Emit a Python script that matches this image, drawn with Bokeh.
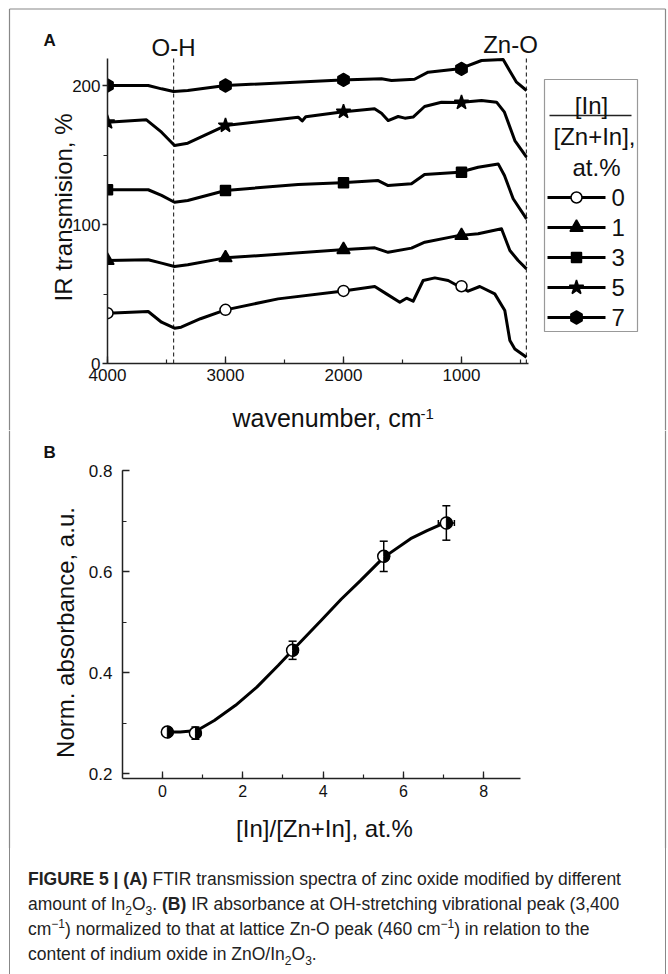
import numpy as np
from bokeh.plotting import figure
from bokeh.models import Range1d, SingleIntervalTicker, Whisker, TeeHead, ColumnDataSource, Div
from bokeh.layouts import column
from bokeh.core.properties import value
from bokeh.embed import file_html
from bokeh.resources import INLINE

FONT = "Liberation Sans"
INK = "#111111"
FRAME_C = "#888888"

# ---------------- Panel A data (FTIR transmission, offset spectra) ----------------
wn0 = [4000, 3655, 3542, 3432, 3376, 3212, 3000, 2554, 2017, 1735, 1636, 1523, 1466, 1410,
       1325, 1226, 1113, 1020, 944, 845, 718, 633, 590, 548, 449]
t0 = [36.2, 37.4, 29.7, 25.4, 26.1, 32.2, 38.6, 46.5, 52.0, 55.4, 50.1, 44.1, 47.0, 44.8,
      59.7, 61.6, 59.7, 55.4, 52.0, 55.4, 50.1, 38.1, 16.5, 10.5, 4.5]

wn1 = [4000, 3655, 3542, 3432, 3320, 3000, 2017, 1735, 1622, 1424, 1311, 1028, 859, 661, 590, 520, 449]
t1 = [74.1, 74.6, 72.2, 69.8, 71.0, 76.0, 81.8, 83.2, 80.0, 83.0, 87.3, 92.0, 93.3, 96.9, 81.3, 74.1, 68.1]

wn3 = [4000, 3655, 3542, 3432, 3320, 3000, 2384, 2017, 1706, 1622, 1424, 1313, 1017, 859, 689, 636, 562, 449]
t3 = [125.0, 125.0, 120.9, 116.0, 117.3, 124.5, 128.8, 130.0, 131.6, 128.0, 129.3, 136.0, 137.6, 141.2,
      143.6, 135.2, 118.5, 104.0]

wn5 = [4000, 3670, 3542, 3432, 3320, 3000, 2384, 2350, 2320, 2017, 1737, 1678, 1622, 1537, 1480, 1410,
       1313, 1170, 1017, 830, 703, 636, 548, 449]
t5 = [173.6, 175.3, 166.4, 156.8, 158.5, 171.2, 177.2, 174.5, 177.5, 181.0, 183.2, 180.0, 174.8, 177.7,
      176.5, 177.3, 184.9, 188.0, 187.7, 189.2, 188.0, 180.8, 160.4, 148.4]

wn7 = [4000, 3655, 3542, 3440, 3320, 3000, 2017, 1678, 1593, 1398, 1283, 1017, 830, 647, 593, 534, 449]
t7 = [200.0, 200.0, 197.6, 195.7, 196.4, 200.0, 204.0, 204.8, 203.6, 204.5, 209.6, 212.0, 218.0, 218.7,
      210.8, 202.4, 196.4]

marker_wn = [4000, 3000, 2000, 1000]
m0 = [36.2, 38.6, 52.2, 55.6]
m1 = [74.1, 76.0, 81.9, 92.0]
m3 = [125.0, 124.5, 130.0, 137.6]
m5 = [173.6, 171.2, 181.2, 187.7]
m7 = [200.0, 200.0, 204.0, 212.0]

series_labels = ["0", "1", "3", "5", "7"]
band_wn = [3440, 450]
band_names = ["O-H", "Zn-O"]

# ---------------- Panel B data (normalized absorbance) ----------------
b_x = [0.12, 0.82, 3.24, 5.51, 7.07]
b_y = [0.282, 0.280, 0.444, 0.630, 0.696]
b_ey = [0.008, 0.012, 0.018, 0.030, 0.034]
b_ex = [0.05, 0.05, 0.05, 0.10, 0.20]
fit_x = [0.12, 0.44, 0.86, 1.29, 1.82, 2.35, 2.88, 3.24, 3.95, 4.45, 4.93, 5.51, 6.18, 6.59, 7.07]
fit_y = [0.282, 0.282, 0.285, 0.305, 0.335, 0.371, 0.414, 0.444, 0.503, 0.545, 0.582, 0.628, 0.665, 0.681, 0.698]

# ---------------- layout (page pixels -> data) ----------------
W = 668
A_H = 430          # panel A canvas: page y 0..430
B_TOP = A_H
B_H = 418          # panel B canvas: page y 430..848


def XA(px):
    return 4000 - (px - 107) / 0.118


def YA(py):
    return (363 - py) / 1.39


def XB(px):
    return (px - 162) / 40.15


def YB(py):
    return 0.2 + (773 - py) / 505.0


def style_axis(a, tin, tout, min_, mout, standoff, fs):
    a.axis_line_color = "#222222"
    a.axis_line_width = 1.5
    a.major_tick_line_color = "#222222"
    a.minor_tick_line_color = "#222222"
    a.major_tick_line_width = 1.3
    a.minor_tick_line_width = 1.2
    a.major_tick_in = tin
    a.major_tick_out = tout
    a.minor_tick_in = min_
    a.minor_tick_out = mout
    a.major_label_standoff = standoff
    a.major_label_text_font = FONT
    a.major_label_text_font_size = fs
    a.major_label_text_color = INK


def txt(p, x, y, s, size, align="left", baseline="alphabetic", bold=False, angle=0.0):
    p.text(x=[x], y=[y], text=[s], text_align=align, text_baseline=baseline,
           text_font=value(FONT), text_font_size=size, text_color=INK,
           text_font_style="bold" if bold else "normal", angle=angle)


def base_fig(xr, yr, h):
    p = figure(width=W, height=h, x_range=xr, y_range=yr, output_backend="svg",
               toolbar_location=None, min_border=0)
    p.grid.visible = False
    p.outline_line_color = None
    p.background_fill_color = "white"
    p.border_fill_color = "white"
    return p


# ================= Panel A =================
pA = base_fig(Range1d(XA(0), XA(W)), Range1d(YA(A_H), YA(0)), A_H)

xa = pA.xaxis[0]
xa.ticker = SingleIntervalTicker(interval=1000, num_minor_ticks=2)
xa.bounds = (XA(528), 4000)
xa.fixed_location = 0
style_axis(xa, 7, 0, 4, 0, 5, "17px")
ya = pA.yaxis[0]
ya.ticker = SingleIntervalTicker(interval=100, num_minor_ticks=2)
ya.bounds = (0, YA(58))
ya.fixed_location = 4000
style_axis(ya, 0, 5, 0, 4, 2, "17px")

# dashed band markers
pA.segment(x0=band_wn, y0=[0, 0], x1=band_wn, y1=[YA(58), YA(55)],
           line_dash="4 3", line_width=1.2, color="#333333")

specs = [("circle", 11, "white"), ("triangle", 13, "black"), ("square", 10, "black"),
         ("star", 15, "black"), ("hex", 13, "black")]
curves = [(wn0, t0, m0), (wn1, t1, m1), (wn3, t3, m3), (wn5, t5, m5), (wn7, t7, m7)]
for (wn, t, m), (mk, sz, fc) in zip(curves, specs):
    pA.line(wn, t, line_width=3, color="black", line_join="round")
    ang = np.pi / 6 if mk == "hex" else 0
    pA.scatter(marker_wn, m, marker=mk, size=sz, fill_color=fc, line_color="black",
               line_width=1.5, angle=ang)

# markers are cut at the axis in the original: mask the area left of 4000
pA.quad(left=[XA(10)], right=[4000], bottom=[YA(368)], top=[YA(60)],
        fill_color="white", line_color=None)

# band labels, panel letter, axis titles
txt(pA, band_wn[0], YA(47), band_names[0], "24px", align="center")
txt(pA, XA(510), YA(44), band_names[1], "24px", align="center")
txt(pA, XA(43), YA(40), "A", "17px", bold=True)
txt(pA, XA(232), YA(417), "wavenumber, cm", "25px")
txt(pA, XA(420), YA(413), "-1", "15px")
txt(pA, XA(63), YA(207), "IR transmision, %", "24px", align="center", angle=np.pi / 2)

# legend
pA.quad(left=[XA(544)], right=[XA(637)], top=[YA(79)], bottom=[YA(331)],
        fill_color=None, line_color="#999999", line_width=1.2)
pA.segment(x0=[XA(549)], y0=[YA(115)], x1=[XA(631)], y1=[YA(115)], line_width=1.5, color="#222222")
txt(pA, XA(591), YA(105), "[In]", "24px", align="center")
txt(pA, XA(594), YA(136), "[Zn+In],", "24px", align="center")
txt(pA, XA(596), YA(167), "at.%", "24px", align="center")
row_y = [197, 227, 257, 287, 317]
for lab, (mk, sz, fc), ry in zip(series_labels, specs, row_y):
    yy = YA(ry)
    pA.segment(x0=[XA(547)], y0=[yy], x1=[XA(605)], y1=[yy], line_width=3, color="black")
    ang = np.pi / 6 if mk == "hex" else 0
    pA.scatter([XA(576)], [yy], marker=mk, size=sz, fill_color=fc, line_color="black",
               line_width=1.5, angle=ang)
    txt(pA, XA(611), yy, lab, "24px", baseline="middle")

# outer figure frame (top, left, right)
pA.segment(x0=[XA(9), XA(9), XA(665)], y0=[YA(8.5), YA(8.5), YA(8.5)],
           x1=[XA(665), XA(9), XA(665)], y1=[YA(8.5), YA(A_H), YA(A_H)],
           line_width=1.2, color=FRAME_C)

# ================= Panel B =================
pB = base_fig(Range1d(XB(0), XB(W)), Range1d(YB(B_TOP + B_H), YB(B_TOP)), B_H)

xb = pB.xaxis[0]
xb.ticker = SingleIntervalTicker(interval=2, num_minor_ticks=2)
xb.bounds = (XB(122), XB(520))
xb.fixed_location = YB(778)
style_axis(xb, 7, 0, 4, 0, 6, "16px")
yb = pB.yaxis[0]
yb.ticker = SingleIntervalTicker(interval=0.2, num_minor_ticks=2)
yb.bounds = (YB(778), 0.8001)
yb.fixed_location = XB(122)
style_axis(yb, 7, 0, 4, 0, 10, "17px")

pB.line(fit_x, fit_y, line_width=3, color="black")

err = ColumnDataSource(dict(
    x=b_x, y=b_y,
    lo=[v - e for v, e in zip(b_y, b_ey)], hi=[v + e for v, e in zip(b_y, b_ey)],
    xlo=[v - e for v, e in zip(b_x, b_ex)], xhi=[v + e for v, e in zip(b_x, b_ex)]))
pB.add_layout(Whisker(source=err, base="x", lower="lo", upper="hi", line_width=1.5, line_color="black",
                      upper_head=TeeHead(size=8, line_width=1.5), lower_head=TeeHead(size=8, line_width=1.5)))
pB.add_layout(Whisker(source=err, base="y", lower="xlo", upper="xhi", dimension="width",
                      line_width=1.5, line_color="black",
                      upper_head=TeeHead(size=6, line_width=1.5), lower_head=TeeHead(size=6, line_width=1.5)))
pB.scatter("x", "y", source=err, marker="circle", size=12, fill_color="white", line_color="black", line_width=1.5)
pB.wedge("x", "y", source=err, radius=6, radius_units="screen", start_angle=-np.pi / 2,
         end_angle=np.pi / 2, color="black")

txt(pB, XB(43), YB(452), "B", "17px", bold=True)
txt(pB, XB(324), YB(828), "[In]/[Zn+In], at.%", "24px", align="center")
txt(pB, XB(65), YB(632), "Norm. absorbance, a.u.", "24px", align="center", angle=np.pi / 2)

pB.segment(x0=[XB(9), XB(665)], y0=[YB(B_TOP), YB(B_TOP)], x1=[XB(9), XB(665)],
           y1=[YB(B_TOP + B_H), YB(B_TOP + B_H)], line_width=1.2, color=FRAME_C)

# ================= caption =================
SUP = "<sup style='line-height:0;font-size:12px'>"
SUB = "<sub style='line-height:0;font-size:12px'>"
cap_html = (
    "<div style=\"border-left:1px solid " + FRAME_C + ";border-right:1px solid " + FRAME_C + ";"
    "border-top:none;border-bottom:none;margin:0 0 0 9px;width:657px;height:126px;box-sizing:border-box;\">"
    "<div style=\"font-family:'Liberation Sans',Arial,sans-serif;font-size:17.5px;line-height:25px;"
    "color:#222;white-space:nowrap;padding:19px 0 0 18px;\">"
    "<b>FIGURE 5 | (A)</b> FTIR transmission spectra of zinc oxide modified by different<br>"
    "amount of In" + SUB + "2</sub>O" + SUB + "3</sub>. <b>(B)</b> IR absorbance at OH-stretching vibrational peak (3,400<br>"
    "cm" + SUP + "\u22121</sup>) normalized to that at lattice Zn-O peak (460 cm" + SUP + "\u22121</sup>) in relation to the<br>"
    "content of indium oxide in ZnO/In" + SUB + "2</sub>O" + SUB + "3</sub>."
    "</div></div>")
cap = Div(text=cap_html, width=W, height=126, margin=(0, 0, 0, 0))

layout = column(pA, pB, cap)

open("out.html", "w").write(file_html(layout, INLINE))
